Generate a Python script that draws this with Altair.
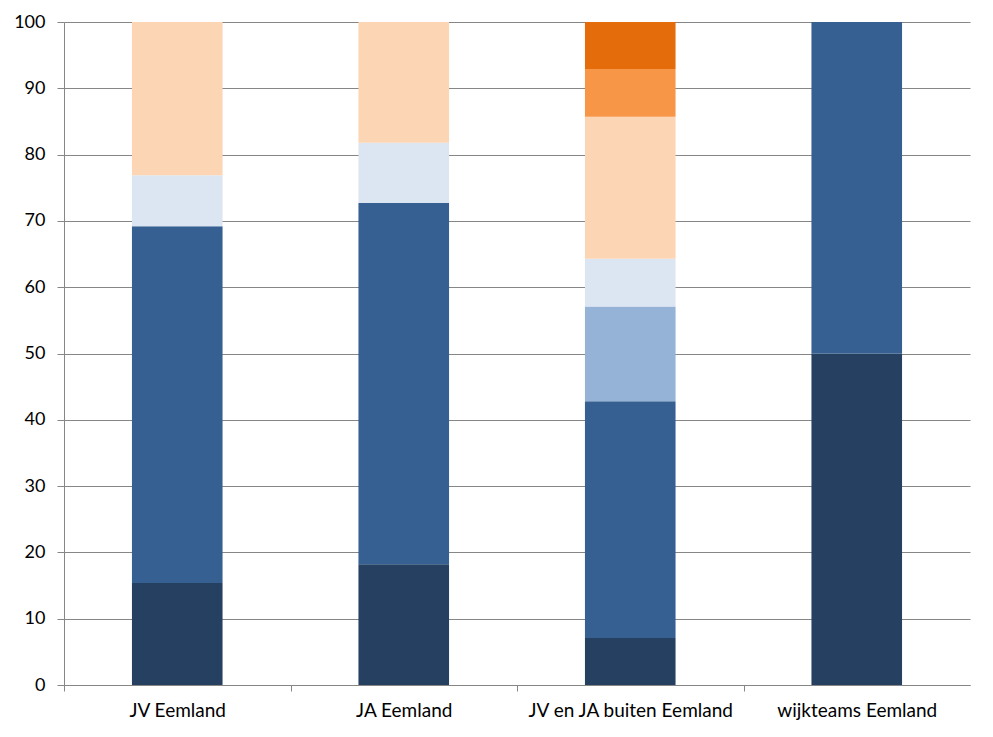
import altair as alt
import pandas as pd

categories = ["JV Eemland", "JA Eemland", "JV en JA buiten Eemland", "wijkteams Eemland"]
series = ["s1", "s2", "s3", "s4", "s5", "s6", "s7"]
colors = ["#254061", "#366092", "#95B3D7", "#DCE6F2", "#FCD5B5", "#F79646", "#E46C0A"]
values = {
    "s1": [15.4, 18.2, 7.1, 50.0],
    "s2": [53.8, 54.5, 35.7, 50.0],
    "s3": [0.0, 0.0, 14.3, 0.0],
    "s4": [7.7, 9.1, 7.2, 0.0],
    "s5": [23.1, 18.2, 21.4, 0.0],
    "s6": [0.0, 0.0, 7.2, 0.0],
    "s7": [0.0, 0.0, 7.1, 0.0],
}

rows = []
for i, s in enumerate(series):
    for c, v in zip(categories, values[s]):
        rows.append({"cat": c, "series": s, "order": i, "value": v})
df = pd.DataFrame(rows)

FONT = "Lato"
GRID = "#868686"

chart = alt.Chart(df).mark_bar().encode(
    x=alt.X("cat:N", sort=categories, title=None,
            scale=alt.Scale(paddingInner=0.6, paddingOuter=0.3),
            axis=alt.Axis(labelAngle=0, labelFontSize=19, labelFont=FONT, labelColor="#000000",
                          domainColor=GRID, tickColor=GRID, tickSize=6, tickOffset=-113.25,
                          labelOffset=113.25, labelPadding=10, labelLimit=400, grid=False)),
    y=alt.Y("value:Q", stack="zero", title=None,
            scale=alt.Scale(domain=[0, 100], nice=False),
            axis=alt.Axis(values=list(range(0, 101, 10)), labelFontSize=18, labelFont=FONT,
                          labelColor="#000000", domainColor=GRID, tickColor=GRID, tickSize=7,
                          labelPadding=12, gridColor=GRID, gridOpacity=1)),
    color=alt.Color("series:N", scale=alt.Scale(domain=series, range=colors), legend=None),
    order=alt.Order("order:Q"),
).properties(
    width=906, height=663,
    autosize=alt.AutoSizeParams(type="none"),
    padding={"left": 56, "top": 14, "right": 15, "bottom": 40},
).configure_view(stroke=None).configure_axis(domainWidth=1, tickWidth=1, gridWidth=1)

chart.save("out.html", embed_options={"renderer": "svg", "actions": False})
